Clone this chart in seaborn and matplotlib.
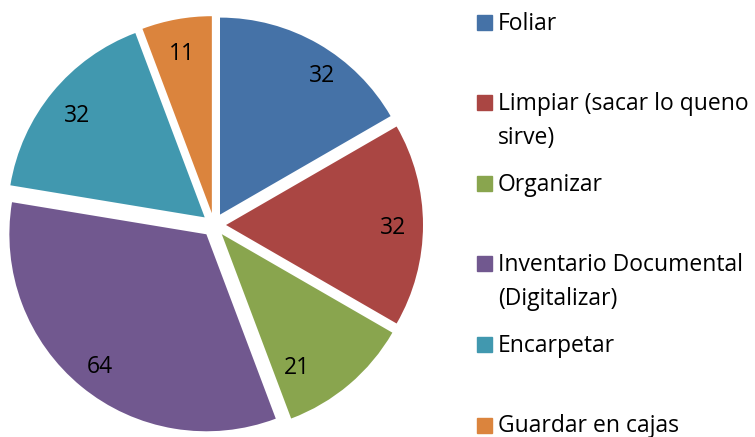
import matplotlib
matplotlib.use('Agg')
import matplotlib.pyplot as plt
import seaborn as sns
import numpy as np
from matplotlib.patches import Rectangle

# datos del gráfico
categories = ['Foliar', 'Limpiar (sacar lo queno\nsirve)', 'Organizar',
              'Inventario Documental\n(Digitalizar)', 'Encarpetar', 'Guardar en cajas']
values = [32, 32, 21, 64, 32, 11]
colors = ['#4572A7', '#AA4643', '#89A54E', '#71588F', '#4198AF', '#DB843D']

sns.set_theme(style='white')
plt.rcParams['font.family'] = ['Open Sans', 'DejaVu Sans']

W, H = 755, 437
fig = plt.figure(figsize=(W / 100, H / 100), dpi=100)

# tarta: centro y radio en píxeles
R = 197
half = 212
cx, cy = 214, 225
ax = fig.add_axes([(cx - half) / W, (H - cy - half) / H, 2 * half / W, 2 * half / H])
wedges, _ = ax.pie(values, colors=colors, startangle=90, counterclock=False,
                   explode=[12 / R] * len(values), radius=1,
                   wedgeprops=dict(linewidth=0))
ax.set_xlim(-half / R, half / R)
ax.set_ylim(-half / R, half / R)
ax.set_aspect('equal')
ax.axis('off')

fs = 16.5

# etiquetas de valores (distancia relativa y pequeño giro, como en Excel "mejor ajuste")
label_r = [0.945, 0.91, 0.826, 0.91, 0.90, 0.90]
label_shift = [-5.4, 0, -9.6, 0, 0, 0]
for w, v, r, s in zip(wedges, values, label_r, label_shift):
    mid = np.deg2rad((w.theta1 + w.theta2) / 2 + s)
    ax.text(r * np.cos(mid), r * np.sin(mid), str(v), ha='center', va='center_baseline',
            fontsize=fs, color='black')

# leyenda manual
for i, (lab, col) in enumerate(zip(categories, colors)):
    yc = 22 + 80.6 * i
    fig.patches.append(Rectangle((477 / W, 1 - (yc + 7.5) / H), 15 / W, 15 / H,
                                 transform=fig.transFigure, color=col, figure=fig))
    for j, line in enumerate(lab.split('\n')):
        fig.text(498 / W, 1 - (yc + 7.5 + 34 * j) / H, line, ha='left', va='baseline',
                 fontsize=fs, color='black')

fig.savefig('out.png', dpi=100)
